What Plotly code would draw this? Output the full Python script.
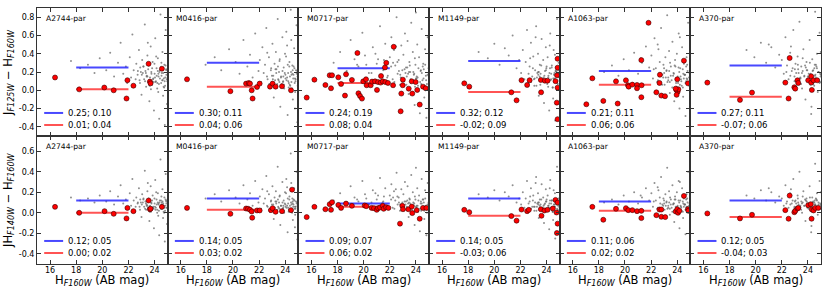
import plotly.graph_objects as go
from plotly.subplots import make_subplots

fields = ["A2744-par", "M0416-par", "M0717-par", "M1149-par", "A1063-par", "A370-par"]

# fitted levels (value; scatter) shown in each panel legend
blue_top = [0.25, 0.30, 0.24, 0.32, 0.21, 0.27]
blue_top_sd = [0.10, 0.11, 0.19, 0.12, 0.11, 0.11]
red_top = [0.01, 0.04, 0.08, -0.02, 0.06, -0.07]
red_top_sd = [0.04, 0.06, 0.04, 0.09, 0.06, 0.06]
blue_bot = [0.12, 0.14, 0.09, 0.14, 0.11, 0.12]
blue_bot_sd = [0.05, 0.05, 0.07, 0.05, 0.06, 0.05]
red_bot = [0.00, 0.03, 0.06, -0.03, 0.02, -0.04]
red_bot_sd = [0.02, 0.02, 0.02, 0.06, 0.02, 0.03]
fit_range = [18, 22]

# field galaxies (gray), same H magnitudes for both colours
gray_h = [
    [17.6,18.3,18.9,19.4,19.8,20.3,20.6,20.9,21.2,21.4,21.6,21.8,21.9,22.1,22.2,22.3,22.4,22.5,22.6,22.7,22.8,22.85,22.9,23.0,23.05,23.1,23.2,23.25,23.3,23.35,23.4,23.45,23.5,23.55,23.6,23.65,23.7,23.75,23.8,23.85,23.9,23.95,24.0,24.05,24.1,24.15,24.2,24.25,24.3,24.35,24.4,24.45,24.5,24.55,24.6,24.65,24.7,24.75,24.8,24.85,24.9,24.95,23.15,23.72,24.12,24.62,24.88,22.95,23.48,24.28,24.52,24.78],
    [17.9,18.6,19.1,19.7,20.2,20.5,20.8,21.1,21.3,21.5,21.7,21.95,22.05,22.15,22.25,22.35,22.45,22.55,22.65,22.75,22.82,22.92,23.02,23.08,23.12,23.18,23.22,23.28,23.38,23.42,23.52,23.58,23.62,23.68,23.78,23.82,23.88,23.92,23.98,24.02,24.08,24.18,24.22,24.32,24.38,24.42,24.48,24.58,24.64,24.68,24.72,24.82,24.86,24.92,24.98,24.06,24.26,24.46,24.56,24.76,23.32,23.56,23.84,24.14,24.34,24.54,24.74,24.94,22.62,23.46],
    [17.7,18.2,18.7,19.0,19.3,19.6,19.9,20.1,20.4,20.7,21.0,21.25,21.45,21.65,21.85,22.0,22.12,22.22,22.32,22.42,22.52,22.6,22.68,22.78,22.88,22.96,23.04,23.1,23.16,23.24,23.3,23.36,23.44,23.5,23.56,23.64,23.7,23.76,23.84,23.9,23.96,24.04,24.1,24.16,24.24,24.3,24.36,24.44,24.5,24.56,24.64,24.7,24.76,24.84,24.9,24.96,20.9,21.55,22.46,23.2,23.6,24.0,24.4,24.8,19.5,22.84,23.92,24.6],
    [18.8,19.5,20.0,20.4,20.8,21.1,21.4,21.7,21.9,22.05,22.18,22.3,22.4,22.5,22.6,22.7,22.8,22.9,22.98,23.06,23.12,23.2,23.26,23.34,23.4,23.48,23.54,23.62,23.68,23.74,23.8,23.88,23.94,24.02,24.08,24.14,24.2,24.28,24.34,24.4,24.46,24.54,24.6,24.66,24.72,24.8,24.86,24.92,24.98,23.16,23.58,23.98,24.24,24.5,24.76,22.74,23.36,24.12,24.64,24.9],
    [18.4,19.0,19.5,19.9,20.3,20.7,21.0,21.3,21.6,21.85,22.02,22.14,22.26,22.36,22.46,22.56,22.66,22.76,22.86,22.94,23.03,23.09,23.17,23.23,23.31,23.37,23.43,23.51,23.57,23.63,23.71,23.77,23.83,23.91,23.97,24.03,24.11,24.17,24.23,24.31,24.37,24.43,24.51,24.57,24.63,24.71,24.77,24.83,24.91,24.97,22.5,23.0,23.45,23.88,24.2,24.45,24.68,24.93,21.2,22.2],
    [19.3,19.9,20.4,20.8,21.2,21.5,21.8,22.0,22.15,22.28,22.4,22.52,22.64,22.76,22.88,22.97,23.05,23.13,23.21,23.29,23.35,23.43,23.49,23.55,23.65,23.73,23.81,23.89,23.95,24.05,24.13,24.19,24.27,24.33,24.41,24.49,24.55,24.61,24.69,24.75,24.81,24.89,24.95,22.7,23.25,23.6,23.99,24.25,24.52,24.72,24.98,21.0,22.35],
]
gray_top = [
    [0.32,0.24,0.28,0.19,0.35,0.22,0.41,0.15,0.30,0.52,0.18,0.26,0.08,0.36,0.14,0.61,0.22,0.05,0.29,0.17,0.44,0.11,0.25,-0.05,0.33,0.19,0.12,0.72,0.21,0.04,0.16,0.38,0.09,0.27,-0.12,0.14,0.48,0.20,0.06,0.31,0.13,-0.22,0.18,0.57,0.10,0.24,0.02,0.35,0.15,-0.31,0.22,0.83,0.08,0.19,0.42,-0.06,0.13,0.28,0.05,0.66,0.17,-0.15,0.26,0.01,0.37,0.11,0.23,0.20,0.52,-0.02,0.30,-0.38],
    [0.28,0.36,0.22,0.45,0.31,0.18,0.55,0.26,0.39,0.14,0.62,0.21,0.33,0.09,0.47,0.19,0.28,0.68,0.12,0.36,0.03,0.24,0.51,0.16,-0.08,0.29,0.11,0.42,0.07,0.78,0.20,0.34,-0.18,0.15,0.58,0.09,0.25,0.02,0.40,0.13,0.64,-0.27,0.19,0.31,0.05,0.88,0.17,-0.10,0.26,0.46,0.08,0.22,0.71,-0.35,0.14,0.37,0.03,0.55,0.18,-0.02,0.23,0.32,0.10,0.49,0.06,0.27,-0.20,0.15,0.41,0.12],
    [0.30,0.42,0.21,0.55,0.34,0.26,0.63,0.38,0.19,0.47,0.29,0.70,0.24,0.51,0.16,0.36,0.58,0.12,0.44,0.27,0.80,0.18,0.33,0.06,0.49,0.22,0.39,0.10,0.62,0.25,0.15,0.54,-0.04,0.31,0.20,0.74,0.09,0.42,0.17,-0.16,0.28,0.13,0.50,0.05,0.36,-0.25,0.21,0.67,0.11,0.29,-0.08,0.45,0.16,0.02,0.58,0.24,0.40,0.33,0.48,0.19,0.12,0.85,0.07,-0.30,0.28,0.14,0.35,0.23],
    [0.42,0.35,0.51,0.28,0.46,0.38,0.60,0.24,0.33,0.19,0.44,0.12,0.31,0.66,0.08,0.26,0.52,0.15,0.37,0.05,0.22,0.70,0.14,0.40,-0.06,0.28,0.18,0.56,0.10,0.33,-0.14,0.21,0.47,0.09,0.36,0.16,-0.22,0.62,0.12,0.27,0.03,0.44,0.19,-0.33,0.25,0.78,0.07,0.30,0.14,0.58,0.11,0.24,0.49,-0.09,0.20,0.35,0.17,0.04,0.39,0.22],
    [0.20,0.27,0.16,0.34,0.22,0.41,0.18,0.30,0.48,0.25,0.38,0.13,0.57,0.24,0.09,0.45,0.31,0.68,0.17,0.28,0.06,0.36,0.21,0.82,0.14,0.43,-0.03,0.26,0.11,0.53,0.19,-0.12,0.33,0.08,0.40,0.15,0.62,-0.20,0.24,0.10,0.47,0.03,0.29,0.17,-0.28,0.36,0.12,0.74,0.05,0.22,0.50,0.19,0.30,0.13,0.58,-0.07,0.26,0.09,0.35,0.23],
    [0.44,0.36,0.52,0.30,0.47,0.25,0.39,0.33,0.18,0.58,0.27,0.12,0.41,0.21,0.66,0.15,0.29,0.08,0.37,0.19,0.75,0.13,0.26,0.02,0.45,0.16,-0.10,0.31,0.22,0.11,0.55,0.18,-0.18,0.34,0.07,0.24,0.86,0.14,0.40,-0.02,0.20,0.63,0.09,0.48,0.23,0.35,0.15,-0.26,0.28,0.12,0.42,0.50,0.20],
]
gray_bot = [
    [0.15,0.12,0.14,0.10,0.17,0.11,0.21,0.08,0.16,0.27,0.09,0.13,0.05,0.19,0.07,0.33,0.12,0.02,0.15,0.09,0.24,0.06,0.13,-0.04,0.18,0.10,0.06,0.41,0.11,0.03,0.08,0.21,0.05,0.14,-0.08,0.07,0.26,0.10,0.03,0.17,0.06,-0.15,0.09,0.32,0.05,0.13,0.00,0.19,0.08,-0.22,0.12,0.52,0.04,0.10,0.23,-0.05,0.07,0.15,0.02,0.38,0.09,-0.11,0.14,0.01,0.20,0.06,0.12,0.10,0.29,-0.03,0.16,-0.28],
    [0.14,0.18,0.11,0.22,0.15,0.09,0.27,0.13,0.19,0.07,0.31,0.10,0.16,0.04,0.23,0.09,0.14,0.36,0.06,0.18,0.01,0.12,0.26,0.08,-0.06,0.15,0.05,0.21,0.03,0.45,0.10,0.17,-0.12,0.07,0.30,0.04,0.12,0.00,0.20,0.06,0.33,-0.19,0.09,0.16,0.02,0.58,0.08,-0.07,0.13,0.24,0.04,0.11,0.40,-0.26,0.07,0.19,0.01,0.29,0.09,-0.02,0.11,0.16,0.05,0.25,0.03,0.14,-0.14,0.07,0.21,0.06],
    [0.12,0.19,0.10,0.26,0.15,0.11,0.31,0.18,0.08,0.22,0.13,0.34,0.10,0.24,0.07,0.17,0.28,0.05,0.21,0.12,0.39,0.08,0.15,0.02,0.23,0.10,0.18,0.04,0.30,0.11,0.06,0.26,-0.04,0.14,0.09,0.37,0.03,0.20,0.07,-0.12,0.13,0.05,0.24,0.01,0.17,-0.18,0.09,0.33,0.04,0.13,-0.06,0.22,0.07,0.00,0.29,0.10,0.19,0.16,0.23,0.08,0.05,0.44,0.02,-0.22,0.13,0.06,0.16,0.10],
    [0.18,0.15,0.22,0.12,0.20,0.16,0.27,0.10,0.14,0.08,0.20,0.05,0.14,0.31,0.03,0.11,0.24,0.06,0.17,0.02,0.10,0.35,0.06,0.19,-0.05,0.13,0.08,0.28,0.04,0.15,-0.10,0.09,0.23,0.04,0.17,0.07,-0.16,0.32,0.05,0.12,0.01,0.22,0.08,-0.25,0.11,0.45,0.03,0.14,0.06,0.29,0.05,0.11,0.24,-0.07,0.09,0.16,0.08,0.02,0.19,0.10],
    [0.10,0.13,0.08,0.17,0.11,0.20,0.09,0.15,0.24,0.12,0.19,0.06,0.29,0.12,0.04,0.22,0.15,0.35,0.08,0.14,0.03,0.18,0.10,0.44,0.07,0.21,-0.02,0.13,0.05,0.27,0.09,-0.09,0.16,0.04,0.20,0.07,0.31,-0.15,0.12,0.05,0.24,0.01,0.14,0.08,-0.21,0.18,0.06,0.40,0.02,0.11,0.25,0.09,0.15,0.06,0.30,-0.05,0.13,0.04,0.17,0.11],
    [0.17,0.14,0.22,0.12,0.20,0.10,0.16,0.14,0.07,0.27,0.11,0.05,0.19,0.09,0.33,0.06,0.12,0.03,0.17,0.08,0.40,0.05,0.11,0.00,0.21,0.07,-0.08,0.14,0.09,0.04,0.26,0.08,-0.13,0.15,0.03,0.10,0.48,0.06,0.19,-0.02,0.08,0.31,0.04,0.23,0.10,0.16,0.06,-0.19,0.12,0.05,0.20,0.24,0.09],
]
# dense faint-end core of the field population
gray_h_core = [
    [22.55,22.72,22.88,23.02,23.14,23.27,23.39,23.51,23.63,23.76,23.88,23.99,24.07,24.16,24.24,24.33,24.41,24.49,24.58,24.66,24.73,24.81,24.89,24.97,23.33,23.57,23.81,24.03,24.21,24.37,24.53,24.69,24.84,24.93,23.45,23.93,24.29,24.61,24.77,24.99],
    [22.6,22.78,22.9,23.05,23.19,23.31,23.44,23.55,23.67,23.79,23.9,24.01,24.1,24.19,24.27,24.36,24.44,24.52,24.61,24.7,24.78,24.87,24.95,22.98,23.25,23.49,23.73,23.96,24.14,24.31,24.47,24.63,24.8,24.91,23.37,23.85,24.23,24.57,24.74,24.99],
    [20.2,20.6,21.1,21.5,21.8,22.1,22.35,22.58,22.8,23.0,23.13,23.27,23.4,23.53,23.66,23.8,23.93,24.06,24.19,24.32,24.45,24.58,24.71,24.84,24.97,22.7,23.07,23.34,23.61,23.87,24.13,24.38,24.64,24.89,22.25,22.93,23.47,24.0,24.52,24.78],
    [22.62,22.81,22.95,23.09,23.22,23.35,23.47,23.59,23.71,23.83,23.95,24.05,24.13,24.22,24.3,24.39,24.47,24.56,24.64,24.72,24.8,24.88,24.96,23.03,23.29,23.52,23.77,24.0,24.17,24.35,24.51,24.68,24.84,24.93,23.41,23.9,24.26,24.6,24.76,24.99],
    [22.52,22.7,22.84,22.99,23.12,23.25,23.38,23.5,23.62,23.74,23.86,23.97,24.06,24.15,24.25,24.34,24.42,24.5,24.6,24.68,24.76,24.85,24.94,22.92,23.18,23.43,23.68,23.93,24.1,24.28,24.46,24.63,24.79,24.9,23.31,23.8,24.2,24.55,24.72,24.98],
    [22.65,22.83,22.97,23.1,23.23,23.36,23.48,23.6,23.72,23.84,23.96,24.06,24.15,24.23,24.32,24.4,24.48,24.57,24.65,24.73,24.81,24.89,24.97,23.0,23.3,23.54,23.78,24.02,24.19,24.36,24.53,24.69,24.85,24.94,23.42,23.91,24.27,24.61,24.77,24.99],
]
gray_top_core = [
    [0.12,0.21,0.08,0.17,0.26,0.10,0.15,0.23,0.05,0.18,0.12,0.29,0.09,0.16,0.21,0.07,0.13,0.25,0.11,0.19,0.03,0.14,0.22,0.10,0.19,0.06,0.24,0.14,0.08,0.20,0.16,0.04,0.27,0.12,0.15,0.09,0.18,0.23,0.10,0.14],
    [0.15,0.07,0.22,0.12,0.03,0.19,0.26,0.09,0.14,0.21,0.06,0.17,0.11,0.28,0.08,0.15,0.20,0.02,0.13,0.24,0.10,0.18,0.05,0.16,0.23,0.11,0.07,0.19,0.14,0.26,0.09,0.17,0.12,0.21,0.04,0.15,0.10,0.22,0.13,0.18],
    [0.28,0.19,0.34,0.22,0.14,0.26,0.09,0.31,0.17,0.12,0.23,0.06,0.18,0.27,0.11,0.20,0.04,0.15,0.24,0.09,0.19,0.13,0.28,0.07,0.16,0.21,0.12,0.25,0.08,0.18,0.14,0.22,0.05,0.17,0.30,0.10,0.20,0.13,0.26,0.11],
    [0.18,0.09,0.24,0.13,0.05,0.20,0.15,0.27,0.10,0.16,0.22,0.07,0.14,0.19,0.11,0.25,0.03,0.17,0.12,0.21,0.08,0.15,0.23,0.12,0.19,0.06,0.14,0.26,0.10,0.18,0.13,0.21,0.04,0.16,0.20,0.09,0.24,0.13,0.17,0.11],
    [0.11,0.19,0.06,0.24,0.14,0.09,0.21,0.16,0.03,0.18,0.26,0.12,0.08,0.20,0.15,0.05,0.23,0.13,0.17,0.10,0.28,0.07,0.19,0.14,0.22,0.09,0.16,0.04,0.25,0.12,0.18,0.08,0.21,0.14,0.11,0.27,0.06,0.17,0.13,0.20],
    [0.16,0.24,0.10,0.19,0.28,0.13,0.07,0.21,0.15,0.25,0.11,0.18,0.30,0.09,0.14,0.22,0.05,0.17,0.26,0.12,0.20,0.08,0.15,0.23,0.11,0.19,0.27,0.13,0.06,0.21,0.16,0.24,0.10,0.18,0.14,0.22,0.09,0.28,0.12,0.17],
]
gray_bot_core = [
    [0.06,0.10,0.03,0.08,0.13,0.04,0.07,0.11,0.01,0.09,0.05,0.14,0.03,0.08,0.10,0.02,0.06,0.12,0.04,0.09,0.00,0.07,0.11,0.05,0.09,0.02,0.12,0.06,0.03,0.10,0.08,0.01,0.13,0.05,0.07,0.04,0.09,0.11,0.05,0.07],
    [0.07,0.03,0.11,0.06,0.01,0.09,0.13,0.04,0.07,0.10,0.02,0.08,0.05,0.14,0.03,0.07,0.10,0.00,0.06,0.12,0.04,0.09,0.02,0.08,0.11,0.05,0.03,0.09,0.07,0.13,0.04,0.08,0.06,0.10,0.01,0.07,0.05,0.11,0.06,0.09],
    [0.14,0.10,0.17,0.11,0.07,0.13,0.04,0.16,0.08,0.06,0.11,0.03,0.09,0.13,0.05,0.10,0.02,0.07,0.12,0.04,0.09,0.06,0.14,0.03,0.08,0.10,0.06,0.12,0.04,0.09,0.07,0.11,0.02,0.08,0.15,0.05,0.10,0.06,0.13,0.05],
    [0.09,0.04,0.12,0.06,0.02,0.10,0.07,0.13,0.05,0.08,0.11,0.03,0.07,0.09,0.05,0.12,0.01,0.08,0.06,0.10,0.04,0.07,0.11,0.06,0.09,0.03,0.07,0.13,0.05,0.09,0.06,0.10,0.02,0.08,0.10,0.04,0.12,0.06,0.08,0.05],
    [0.05,0.09,0.02,0.12,0.07,0.04,0.10,0.08,0.01,0.09,0.13,0.06,0.03,0.10,0.07,0.02,0.11,0.06,0.08,0.05,0.14,0.03,0.09,0.07,0.11,0.04,0.08,0.01,0.12,0.06,0.09,0.03,0.10,0.07,0.05,0.13,0.02,0.08,0.06,0.10],
    [0.08,0.12,0.05,0.09,0.14,0.06,0.03,0.10,0.07,0.12,0.05,0.09,0.15,0.04,0.07,0.11,0.02,0.08,0.13,0.06,0.10,0.04,0.07,0.11,0.05,0.09,0.13,0.06,0.03,0.10,0.08,0.12,0.05,0.09,0.07,0.11,0.04,0.14,0.06,0.08],
]

# selected objects (red), top row: J125 - H160
red_h_top = [
    [16.38,18.23,20.15,20.87,21.85,21.92,22.38,23.54,23.64,23.69,24.56],
    [16.48,19.8,21.0,21.2,21.3,21.43,21.5,21.84,22.04,22.83,23.03,23.26,23.75,24.44],
    [15.64,16.23,17.07,17.4,17.58,17.5,18.06,18.27,18.57,18.65,19.1,19.52,19.6,19.72,19.87,19.97,20.18,20.23,20.54,20.64,20.87,21.02,21.1,21.3,21.33,21.46,21.63,21.73,21.66,21.86,22.3,22.25,22.83,22.88,23.0,22.99,23.45,23.68,23.72,23.98,24.1,24.29,24.54,24.75],
    [17.7,18.08,21.3,21.7,22.08,22.51,22.7,23.56,23.58,23.87,24.07,24.68,24.84,24.84,24.8,24.84,24.78,24.84],
    [17.04,17.5,18.34,19.31,19.44,20.07,20.23,20.28,20.56,20.92,20.92,21.25,21.25,21.27,21.8,22.4,22.67,22.64,22.78,23.06,23.93,24.0,24.03,23.95,24.08,24.51,24.82,23.88],
    [16.3,18.8,19.72,22.27,22.52,22.6,22.96,23.03,23.2,23.26,24.02,24.25,24.25,24.3,24.43,24.71],
]
red_c_top = [
    [0.14,0.01,0.03,0.00,-0.09,0.11,0.05,0.29,0.095,0.076,0.236],
    [0.12,-0.01,0.073,0.08,0.073,0.0,-0.09,0.036,0.073,0.04,0.073,0.04,0.044,0.0],
    [-0.08,0.116,0.058,0.164,0.164,0.022,0.142,0.069,-0.058,0.175,0.113,0.408,-0.033,-0.062,-0.091,0.098,0.12,0.055,0.055,0.095,0.098,0.004,0.09,0.084,0.156,0.098,0.25,0.30,0.09,0.08,0.476,0.055,-0.23,-0.036,0.116,0.055,0.018,0.098,-0.036,0.09,0.004,-0.156,0.04,0.022],
    [0.076,0.04,-0.022,-0.11,0.11,0.058,0.11,0.113,-0.022,0.105,0.105,0.1,0.345,0.247,0.164,0.029,-0.135,-0.316],
    [-0.153,0.131,-0.116,0.098,-0.145,0.109,0.055,0.04,0.062,0.058,0.022,0.33,-0.076,0.055,0.738,-0.022,0.17,0.08,-0.058,-0.065,0.004,0.12,-0.015,-0.05,0.011,0.324,0.076,0.018],
    [0.084,-0.105,-0.025,0.084,-0.09,0.353,0.033,0.018,0.109,0.08,0.109,0.153,0.084,0.004,0.109,0.109],
]
# bottom row: JH140 - H160
red_h_bot = [
    [16.38,18.23,20.17,20.87,21.85,21.92,22.38,23.54,23.64,23.69,24.56],
    [16.48,19.8,21.0,21.15,21.3,21.43,21.47,21.84,22.04,22.9,23.03,23.26,23.75,24.44,24.52],
    [15.64,16.23,17.07,17.4,17.58,17.5,18.06,18.27,18.65,19.1,20.08,20.2,20.61,20.79,21.0,21.1,21.25,21.46,21.53,21.71,21.89,22.78,22.96,23.01,23.42,23.68,23.72,24.06,24.29,24.54,24.8],
    [17.7,18.08,21.3,21.7,22.08,22.51,22.64,23.56,23.61,23.84,24.07,24.48,24.68,24.84,24.76,24.84,24.79],
    [17.5,18.34,19.31,20.07,20.25,20.56,20.92,21.25,21.25,22.4,22.64,22.78,22.78,23.08,23.88,24.0,24.06,24.16,24.51,24.82,24.85],
    [16.3,18.8,19.72,22.27,22.52,22.6,22.96,23.03,23.2,23.26,24.02,24.22,24.3,24.28,24.43,24.56,24.79],
]
red_c_bot = [
    [0.058,0.0,0.016,-0.01,-0.055,0.048,0.016,0.12,0.035,0.04,0.058],
    [0.048,-0.01,0.042,0.04,0.03,0.013,-0.048,0.023,0.023,0.026,0.045,0.01,0.016,0.026,0.226],
    [-0.042,0.058,0.035,0.084,0.103,0.029,0.077,0.048,0.09,0.068,0.071,0.065,0.048,0.045,0.029,0.045,0.052,0.068,0.039,0.055,0.048,-0.106,0.068,0.035,0.035,0.061,-0.003,0.026,-0.058,0.048,0.048],
    [0.029,0.006,-0.032,-0.077,0.032,0.016,0.029,0.035,-0.029,0.023,0.029,0.042,0.126,0.1,0.003,-0.106,-0.197],
    [0.058,-0.068,0.039,0.045,0.026,0.026,0.016,0.019,-0.052,-0.023,0.032,0.032,-0.039,-0.042,0.013,0.035,0.0,0.019,0.165,0.035,0.019],
    [-0.006,-0.055,-0.019,0.026,-0.058,0.168,0.006,0.019,0.042,0.048,0.074,0.084,0.032,-0.058,0.023,0.048,0.048],
]

x_ticks = [16, 18, 20, 22, 24]
y_ticks_top = [-0.4, -0.2, 0.0, 0.2, 0.4, 0.6, 0.8]
y_ticks_bot = [-0.4, -0.2, 0.0, 0.2, 0.4, 0.6]
y_text_top = ["-0.4", "-0.2", "0.0", "0.2", "0.4", "0.6", "0.8"]
y_text_bot = ["-0.4", "-0.2", "0.0", "0.2", "0.4", "0.6"]

FONT = "DejaVu Sans"
BLUE = "rgba(40,40,255,0.85)"
RED = "rgba(255,40,40,0.8)"

fig = make_subplots(rows=2, cols=6, horizontal_spacing=0, vertical_spacing=0)

for r in (1, 2):
    for c in range(6):
        idx = (r - 1) * 6 + c + 1
        gx = gray_h[c] + gray_h_core[c]
        gy = (gray_top[c] + gray_top_core[c]) if r == 1 else (gray_bot[c] + gray_bot_core[c])
        rh = red_h_top[c] if r == 1 else red_h_bot[c]
        rc = red_c_top[c] if r == 1 else red_c_bot[c]
        bv = blue_top[c] if r == 1 else blue_bot[c]
        bs = blue_top_sd[c] if r == 1 else blue_bot_sd[c]
        rv = red_top[c] if r == 1 else red_bot[c]
        rs = red_top_sd[c] if r == 1 else red_bot_sd[c]
        fig.add_trace(go.Scatter(x=gx, y=gy, mode="markers",
                                 marker=dict(size=2, color="rgba(105,105,105,0.75)"),
                                 showlegend=False, hoverinfo="skip"), row=r, col=c + 1)
        fig.add_trace(go.Scatter(x=fit_range, y=[bv, bv], mode="lines",
                                 line=dict(color=BLUE, width=2), showlegend=False), row=r, col=c + 1)
        fig.add_trace(go.Scatter(x=fit_range, y=[rv, rv], mode="lines",
                                 line=dict(color=RED, width=2), showlegend=False), row=r, col=c + 1)
        fig.add_trace(go.Scatter(x=rh, y=rc, mode="markers",
                                 marker=dict(size=5, color="#ff0000",
                                             line=dict(color="#3a0000", width=0.6)),
                                 showlegend=False), row=r, col=c + 1)
        xr = "x domain" if idx == 1 else f"x{idx} domain"
        yr = "y domain" if idx == 1 else f"y{idx} domain"
        # panel label
        fig.add_annotation(xref=xr, yref=yr, x=0.05, y=0.915, text=fields[c],
                           showarrow=False, xanchor="left", yanchor="middle",
                           font=dict(family=FONT, size=7.6, color="black"))
        # legend samples
        for yy, col, v, s in ((0.18, BLUE, bv, bs), (0.086, RED, rv, rs)):
            fig.add_shape(type="line", xref=xr, yref=yr, x0=0.055, x1=0.20, y0=yy, y1=yy,
                          line=dict(color=col, width=2))
            fig.add_annotation(xref=xr, yref=yr, x=0.222, y=yy, text=f"{v:.2f}; {s:.2f}",
                               showarrow=False, xanchor="left", yanchor="middle",
                               font=dict(family=FONT, size=8.5, color="black"))
        axis_common = dict(showline=True, linecolor="#333", linewidth=1, mirror="ticks",
                           ticks="inside", ticklen=4, tickcolor="#333", tickwidth=1,
                           showgrid=False, zeroline=False, automargin=False,
                           tickfont=dict(family=FONT, size=8, color="black"))
        fig.update_xaxes(range=[15, 25], tickvals=x_ticks, ticklabelstandoff=-2,
                         showticklabels=(r == 2), row=r, col=c + 1, **axis_common)
        fig.update_yaxes(range=[-0.5, 0.9] if r == 1 else [-0.5, 0.75],
                         tickvals=y_ticks_top if r == 1 else y_ticks_bot,
                         ticktext=y_text_top if r == 1 else y_text_bot,
                         showticklabels=(c == 0), row=r, col=c + 1, **axis_common)
        if r == 2:
            fig.add_annotation(xref=xr, yref="paper", x=0.5, y=-0.066,
                               text="H<sub><i>F160W</i></sub> (AB mag)", showarrow=False,
                               xanchor="center", yanchor="middle",
                               font=dict(family=FONT, size=11.5, color="black"))

fig.add_annotation(xref="paper", yref="paper", x=-0.037, y=0.75,
                   text="J<sub><i>F125W</i></sub> − H<sub><i>F160W</i></sub>",
                   textangle=-90, showarrow=False, xanchor="center", yanchor="middle",
                   font=dict(family=FONT, size=11.5, color="black"))
fig.add_annotation(xref="paper", yref="paper", x=-0.037, y=0.25,
                   text="JH<sub><i>F140W</i></sub> − H<sub><i>F160W</i></sub>",
                   textangle=-90, showarrow=False, xanchor="center", yanchor="middle",
                   font=dict(family=FONT, size=11.5, color="black"))

fig.update_layout(template="none", width=830, height=295,
                  margin=dict(l=37, r=9, t=8, b=31, autoexpand=False),
                  paper_bgcolor="white", plot_bgcolor="white",
                  font=dict(family=FONT, size=9, color="black"), showlegend=False)

fig.write_html("out.html", config={"displayModeBar": False},
               post_script="document.body.style.margin='0px';")
